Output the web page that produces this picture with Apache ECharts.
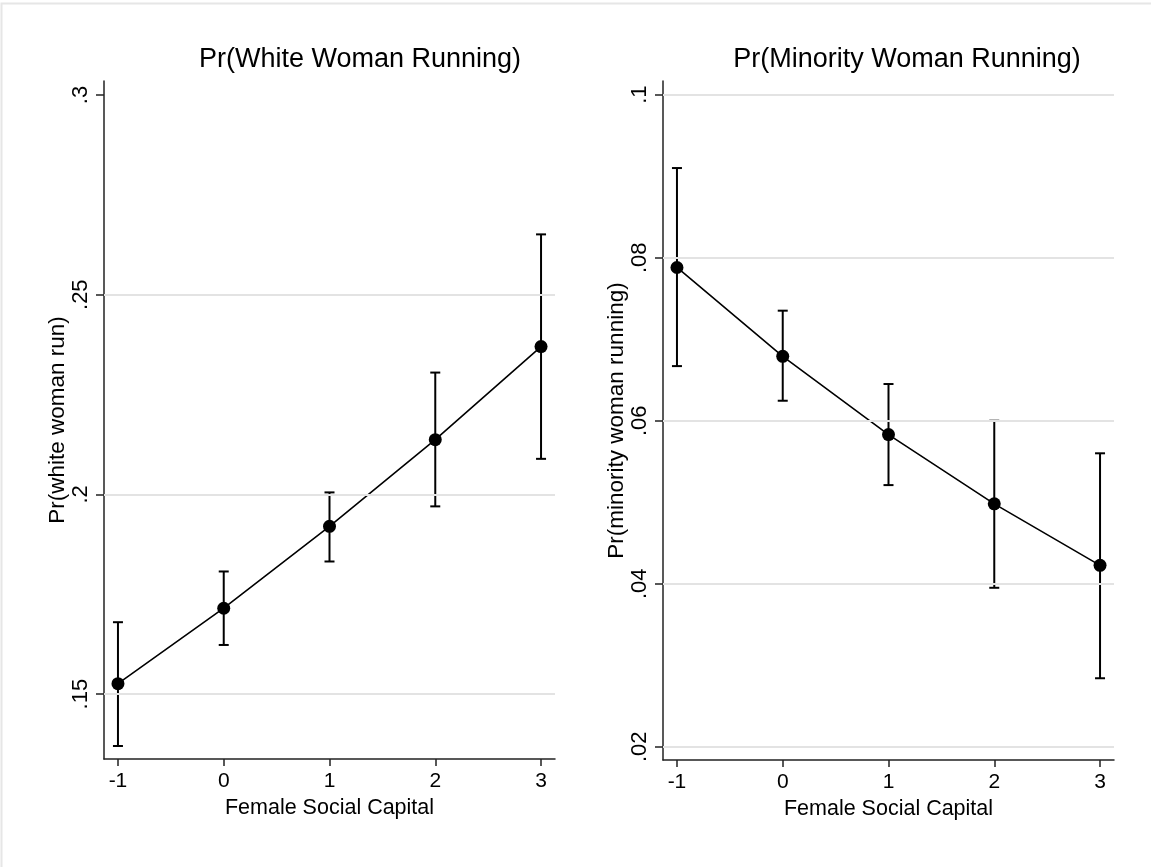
<!DOCTYPE html>
<html>
<head>
<meta charset="utf-8">
<script src="https://cdn.jsdelivr.net/npm/echarts@6/dist/echarts.min.js"></script>
<style>
html,body{margin:0;padding:0;background:#fff;}
#chart{width:1151px;height:867px;}
</style>
</head>
<body>
<div id="chart"></div>
<script>
// ---- data ----
var xValues = [-1, 0, 1, 2, 3];
var xTicks = [-1, 0, 1, 2, 3];

var whiteMean = [0.1526, 0.1715, 0.1920, 0.2137, 0.2370];
var whiteLow  = [0.1370, 0.1623, 0.1832, 0.1970, 0.2089];
var whiteHigh = [0.1680, 0.1807, 0.2005, 0.2305, 0.2651];
var whiteYTicks = [0.15, 0.2, 0.25, 0.3];
var whiteGrid = [0.15, 0.2, 0.25];

var minorMean = [0.0788, 0.0679, 0.0583, 0.0498, 0.04225];
var minorLow  = [0.0667, 0.06245, 0.0521, 0.0395, 0.0284];
var minorHigh = [0.0910, 0.0735, 0.0645, 0.0600, 0.0560];
var minorYTicks = [0.02, 0.04, 0.06, 0.08, 0.1];
var minorGrid = [0.02, 0.04, 0.06, 0.08, 0.1];

var titles = ['Pr(White Woman Running)', 'Pr(Minority Woman Running)'];
var yNames = ['Pr(white woman run)', 'Pr(minority woman running)'];
var xName = 'Female Social Capital';

// ---- build ----
var FONT = 'Liberation Sans, Arial, sans-serif';
function fmt(v){ var s = String(+v.toFixed(4)); return s.replace(/^0\./, '.').replace(/^-0\./, '-.'); }
function zip2(a, b){ return a.map(function(v, i){ return [v, b[i]]; }); }
function zip3(a, b, c){ return a.map(function(v, i){ return [v, b[i], c[i]]; }); }

var grids = [
  {left: 104, top: 81, width: 451, height: 678},
  {left: 663, top: 81, width: 451, height: 679}
];

function xAxisCfg(i){
  return {
    type: 'value', gridIndex: i, min: -1.132, max: 3.132,
    name: xName, nameLocation: 'middle', nameGap: 35,
    nameTextStyle: {fontFamily: FONT, fontSize: 21.5, color: '#000'},
    axisLine: {show: true, onZero: false, lineStyle: {color: '#222', width: 1.5}},
    axisTick: {show: true, length: 7, lineStyle: {color: '#222', width: 1.5}, customValues: xTicks},
    axisLabel: {fontFamily: FONT, fontSize: 21, color: '#000', margin: 12, customValues: xTicks,
      formatter: function(v){ return String(v); }},
    splitLine: {show: false}
  };
}
function yAxisCfg(i, min, max, ticks){
  return {
    type: 'value', gridIndex: i, min: min, max: max,
    name: yNames[i], nameLocation: 'middle', nameGap: 35,
    nameTextStyle: {fontFamily: FONT, fontSize: 22.5, color: '#000'},
    axisLine: {show: true, onZero: false, lineStyle: {color: '#222', width: 1.5}},
    axisTick: {show: true, length: 8, lineStyle: {color: '#222', width: 1.5}, customValues: ticks},
    axisLabel: {fontFamily: FONT, fontSize: 22, color: '#000', rotate: 90, margin: 12, customValues: ticks,
      formatter: function(v){ return fmt(v); }},
    splitLine: {show: false}
  };
}

function errorSeries(i, low, high){
  return {
    type: 'custom', xAxisIndex: i, yAxisIndex: i, z: 3,
    data: zip3(xValues, low, high),
    renderItem: function(params, api){
      var x = api.value(0);
      var p1 = api.coord([x, api.value(1)]);
      var p2 = api.coord([x, api.value(2)]);
      var hw = 5;
      var st = {stroke: '#000', lineWidth: 2};
      return {type: 'group', children: [
        {type: 'line', shape: {x1: p1[0], y1: p1[1], x2: p2[0], y2: p2[1]}, style: st},
        {type: 'line', shape: {x1: p1[0]-hw, y1: p1[1], x2: p1[0]+hw, y2: p1[1]}, style: st},
        {type: 'line', shape: {x1: p2[0]-hw, y1: p2[1], x2: p2[0]+hw, y2: p2[1]}, style: st}
      ]};
    }
  };
}
function gridSeries(i, vals){
  return {
    type: 'line', xAxisIndex: i, yAxisIndex: i, data: [], z: 1, silent: true,
    markLine: {silent: true, symbol: ['none','none'], label: {show: false},
      lineStyle: {color: '#e3e3e3', width: 2, type: 'solid'},
      animation: false,
      data: vals.map(function(v){ return {yAxis: v}; })}
  };
}
function lineSeries(i, mean){
  return {
    type: 'line', xAxisIndex: i, yAxisIndex: i, z: 4,
    data: zip2(xValues, mean),
    symbol: 'circle', symbolSize: 13,
    itemStyle: {color: '#000'},
    lineStyle: {color: '#000', width: 1.6}
  };
}
function titleText(txt, cx){
  return {type: 'text', x: cx, y: 60, silent: true,
    style: {text: txt, x: 0, y: 0, align: 'center', verticalAlign: 'middle',
      fontFamily: FONT, fontSize: 27, fill: '#000'}};
}

var option = {
  animation: false,
  backgroundColor: '#fff',
  graphic: [
    {type: 'polyline', shape: {points: [[1.5, 880], [1.5, 3.5], [1160, 3.5]]},
      style: {stroke: '#e6e6e6', lineWidth: 2, fill: null}, silent: true},
    titleText(titles[0], 360),
    titleText(titles[1], 907)
  ],
  grid: grids,
  xAxis: [xAxisCfg(0), xAxisCfg(1)],
  yAxis: [yAxisCfg(0, 0.13375, 0.3035, whiteYTicks), yAxisCfg(1, 0.01837, 0.10168, minorYTicks)],
  series: [
    gridSeries(0, whiteGrid), errorSeries(0, whiteLow, whiteHigh), lineSeries(0, whiteMean),
    gridSeries(1, minorGrid), errorSeries(1, minorLow, minorHigh), lineSeries(1, minorMean)
  ]
};
var chart = echarts.init(document.getElementById('chart'), null, {renderer: 'canvas'});
chart.setOption(option);
</script>
</body>
</html>
